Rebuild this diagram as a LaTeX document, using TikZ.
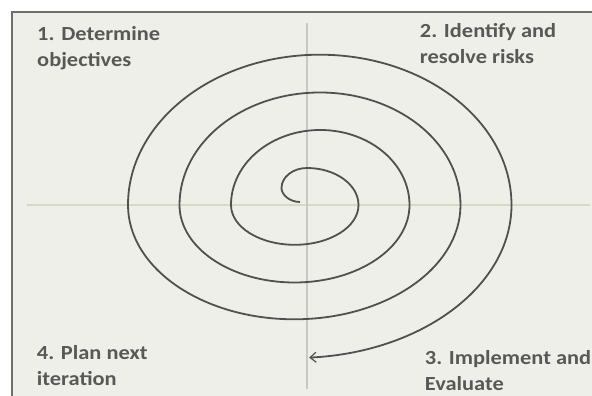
\documentclass[tikz,border=0pt]{standalone}
\usepackage{fontspec}
\newfontfamily\labfont{Carlito}[FakeStretch=1.12]
\usetikzlibrary{arrows.meta}
\definecolor{bgc}{HTML}{EFEFEA}
\definecolor{frame}{HTML}{6E6E6E}
\definecolor{spir}{HTML}{505050}
\definecolor{txt}{HTML}{585858}
\definecolor{haxis}{HTML}{D6DAC0}
\definecolor{vaxis}{HTML}{C8C8C2}
\tikzset{
  lab/.style={anchor=base west, inner sep=0pt, align=left, text=txt,
    font=\labfont\bfseries\fontsize{20}{26}\selectfont},
  spiralline/.style={draw=spir, line width=1.8pt},
  axisline/.style={line width=1.3pt}
}
\begin{document}
\begin{tikzpicture}[x=1pt,y=1pt]
\useasboundingbox (0,0) rectangle (592,396);
\fill[white] (0,0) rectangle (592,396);
\fill[bgc] (12,0) rectangle (592,384);
\draw[frame, line width=1.6pt] (12,0) -- (12,384) -- (592,384);
% axes
\coordinate (hl) at (27,191);
\coordinate (hr) at (590,191);
\coordinate (vt) at (307,373);
\coordinate (vb) at (307,7);
\draw[haxis, axisline] (hl) -- (hr);
\draw[vaxis, axisline] (vt) -- (vb);
% spiral
\coordinate (s) at (300,194);
\draw[spiralline, -{Straight Barb[length=6pt,width=10pt,line width=1.2pt]}]
  (s) .. controls (290,194) and (281.5,201) .. (281.5,208)
      .. controls (281.5,219) and (293,228) .. (307,228)
      .. controls (335.4,228) and (358.5,211.4) .. (358.5,191)
  arc[start angle=0, end angle=-180, x radius=63.75, y radius=39.8]
  arc[start angle=180, end angle=0, x radius=89.25, y radius=75]
  arc[start angle=0, end angle=-180, x radius=115, y radius=77.5]
  arc[start angle=180, end angle=0, x radius=140.5, y radius=112.5]
  arc[start angle=0, end angle=-180, x radius=166.25, y radius=114.3]
  arc[start angle=180, end angle=0, x radius=191.75, y radius=150.3]
  arc[start angle=0, end angle=-86, x radius=217.5, y radius=153]
  coordinate (e);
% labels (base anchor = last line)
\node[lab] (l1) at (37,329.3) {1. Determine\\objectives};
\node[lab] (l2) at (419.7,332.7) {2. Identify and\\resolve risks};
\node[lab] (l3) at (424.7,5.7) {3. Implement and\\Evaluate};
\node[lab] (l4) at (36.7,10.7) {4. Plan next\\iteration};
\end{tikzpicture}
\end{document}
